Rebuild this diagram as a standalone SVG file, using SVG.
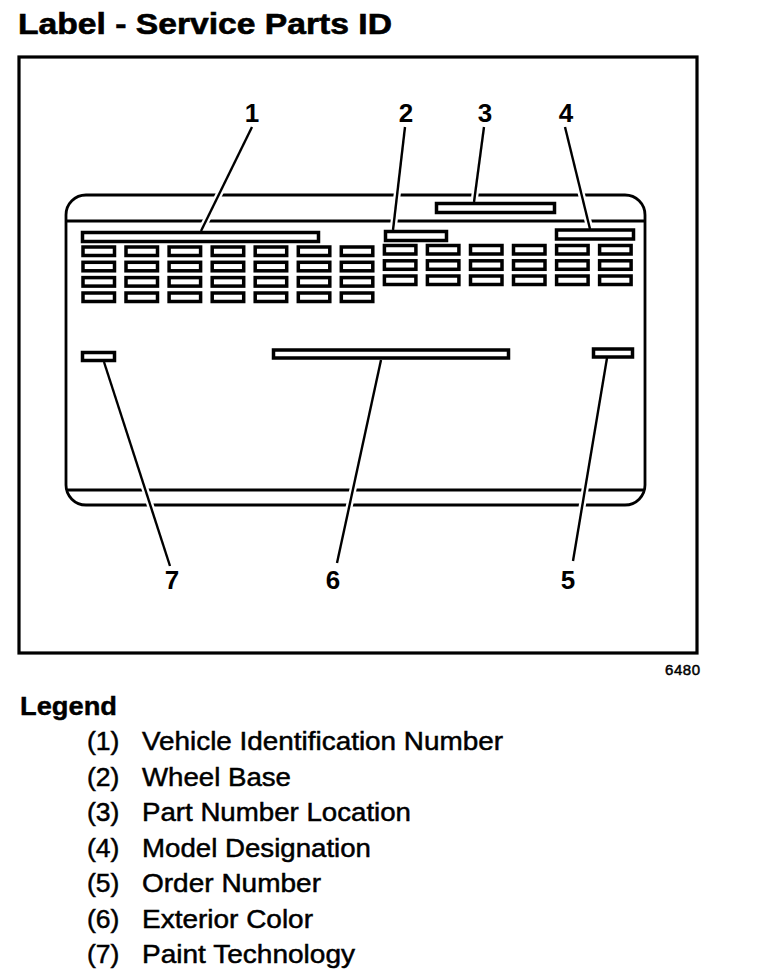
<svg xmlns="http://www.w3.org/2000/svg" width="768" height="972" viewBox="0 0 768 972">
<style>
  .t { font-family: "Liberation Sans", Arial, Helvetica, sans-serif; fill: #000; }
  .b { font-weight: bold; }
  .heavy { stroke: #000; stroke-width: 0.5; }
  .ln { fill: none; stroke: #000; stroke-width: 2.8; }
  .box { fill: #fff; stroke: #000; stroke-width: 3.5; }
  .halo { fill: none; stroke: #fff; stroke-width: 7; }
  .lead { fill: none; stroke: #000; stroke-width: 2.4; }
</style>
<defs>
  <rect id="cell" x="0" y="0" width="31.5" height="8.5" class="box"/>
</defs>
<rect x="0" y="0" width="768" height="972" fill="#fff"/>
<text class="t b" x="18" y="34" font-size="29" textLength="374" lengthAdjust="spacingAndGlyphs" stroke="#000" stroke-width="0.6">Label - Service Parts ID</text>

<g id="frame">
  <rect x="19" y="57" width="678" height="596" fill="none" stroke="#000" stroke-width="3.2"/>
</g>

<g id="label-outline">
  <rect x="66" y="195" width="579" height="310" rx="20" ry="20" class="ln"/>
  <line x1="66" y1="221" x2="645" y2="221" class="ln"/>
  <line x1="66" y1="490" x2="645" y2="490" class="ln"/>
</g>

<g id="connectors">
  <line x1="252" y1="127" x2="203.5" y2="226" class="halo"/>
  <line x1="405" y1="127" x2="393.5" y2="226" class="halo"/>
  <line x1="484" y1="127" x2="474.4" y2="199" class="halo"/>
  <line x1="565" y1="127" x2="589" y2="225" class="halo"/>
  <line x1="105.6" y1="367" x2="170" y2="566" class="halo"/>
  <line x1="379.9" y1="365" x2="337" y2="563" class="halo"/>
  <line x1="606.2" y1="363" x2="573" y2="561" class="halo"/>
  <line x1="252" y1="127" x2="201" y2="231" class="lead"/>
  <line x1="405" y1="127" x2="393" y2="230" class="lead"/>
  <line x1="484" y1="127" x2="474" y2="202" class="lead"/>
  <line x1="565" y1="127" x2="590" y2="229" class="lead"/>
  <line x1="104" y1="362" x2="170" y2="566" class="lead"/>
  <line x1="381" y1="360" x2="337" y2="563" class="lead"/>
  <line x1="607" y1="358" x2="573" y2="561" class="lead"/>
</g>

<g id="n1-vin-bar"><rect x="82.5" y="232.5" width="236" height="9" class="box"/></g>
<g id="n2-wheelbase-bar"><rect x="385.5" y="231.5" width="61" height="9" class="box"/></g>
<g id="n3-partnumber-bar"><rect x="436.5" y="203.5" width="118" height="9" class="box"/></g>
<g id="n4-model-bar"><rect x="556.5" y="230" width="77" height="9" class="box"/></g>
<g id="n7-paint-bar"><rect x="82.5" y="352.5" width="32" height="8" class="box"/></g>
<g id="n6-color-bar"><rect x="273.5" y="350" width="235" height="8" class="box"/></g>
<g id="n5-order-bar"><rect x="593.5" y="349" width="39" height="8" class="box"/></g>

<g id="cells">
  <use href="#cell" x="83" y="247"/><use href="#cell" x="83" y="262.3"/><use href="#cell" x="83" y="277.6"/><use href="#cell" x="83" y="293"/>
  <use href="#cell" x="126" y="247"/><use href="#cell" x="126" y="262.3"/><use href="#cell" x="126" y="277.6"/><use href="#cell" x="126" y="293"/>
  <use href="#cell" x="169.1" y="247"/><use href="#cell" x="169.1" y="262.3"/><use href="#cell" x="169.1" y="277.6"/><use href="#cell" x="169.1" y="293"/>
  <use href="#cell" x="212.2" y="247"/><use href="#cell" x="212.2" y="262.3"/><use href="#cell" x="212.2" y="277.6"/><use href="#cell" x="212.2" y="293"/>
  <use href="#cell" x="255.2" y="247"/><use href="#cell" x="255.2" y="262.3"/><use href="#cell" x="255.2" y="277.6"/><use href="#cell" x="255.2" y="293"/>
  <use href="#cell" x="298.3" y="247"/><use href="#cell" x="298.3" y="262.3"/><use href="#cell" x="298.3" y="277.6"/><use href="#cell" x="298.3" y="293"/>
  <use href="#cell" x="341.3" y="247"/><use href="#cell" x="341.3" y="262.3"/><use href="#cell" x="341.3" y="277.6"/><use href="#cell" x="341.3" y="293"/>
  <use href="#cell" x="384.4" y="245.5"/><use href="#cell" x="384.4" y="260.8"/><use href="#cell" x="384.4" y="276"/>
  <use href="#cell" x="427.4" y="245.5"/><use href="#cell" x="427.4" y="260.8"/><use href="#cell" x="427.4" y="276"/>
  <use href="#cell" x="470.5" y="245.5"/><use href="#cell" x="470.5" y="260.8"/><use href="#cell" x="470.5" y="276"/>
  <use href="#cell" x="513.5" y="245.5"/><use href="#cell" x="513.5" y="260.8"/><use href="#cell" x="513.5" y="276"/>
  <use href="#cell" x="556.6" y="245.5"/><use href="#cell" x="556.6" y="260.8"/><use href="#cell" x="556.6" y="276"/>
  <use href="#cell" x="599.6" y="245.5"/><use href="#cell" x="599.6" y="260.8"/><use href="#cell" x="599.6" y="276"/>
</g>

<g id="callouts" class="t b" font-size="26" text-anchor="middle">
  <text x="252" y="122">1</text>
  <text x="406" y="122">2</text>
  <text x="485" y="122">3</text>
  <text x="566" y="122">4</text>
  <text x="172" y="589">7</text>
  <text x="333" y="589">6</text>
  <text x="568" y="589">5</text>
</g>

<text class="t heavy" x="665" y="675" font-size="15" textLength="35" stroke-width="0.3">6480</text>

<g id="legend" class="t" font-size="26.5">
  <text class="b" x="20" y="715" font-size="25" textLength="97" lengthAdjust="spacingAndGlyphs" stroke="#000" stroke-width="0.4">Legend</text>
  <g class="heavy">
  <text x="87" y="750">(1)</text><text x="142" y="750" textLength="361" lengthAdjust="spacingAndGlyphs">Vehicle Identification Number</text>
  <text x="87" y="785.5">(2)</text><text x="142" y="785.5" textLength="149" lengthAdjust="spacingAndGlyphs">Wheel Base</text>
  <text x="87" y="821">(3)</text><text x="142" y="821" textLength="269" lengthAdjust="spacingAndGlyphs">Part Number Location</text>
  <text x="87" y="856.5">(4)</text><text x="142" y="856.5" textLength="229" lengthAdjust="spacingAndGlyphs">Model Designation</text>
  <text x="87" y="892">(5)</text><text x="142" y="892" textLength="179" lengthAdjust="spacingAndGlyphs">Order Number</text>
  <text x="87" y="927.5">(6)</text><text x="142" y="927.5" textLength="171" lengthAdjust="spacingAndGlyphs">Exterior Color</text>
  <text x="87" y="963">(7)</text><text x="142" y="963" textLength="213" lengthAdjust="spacingAndGlyphs">Paint Technology</text>
  </g>
</g>
</svg>
